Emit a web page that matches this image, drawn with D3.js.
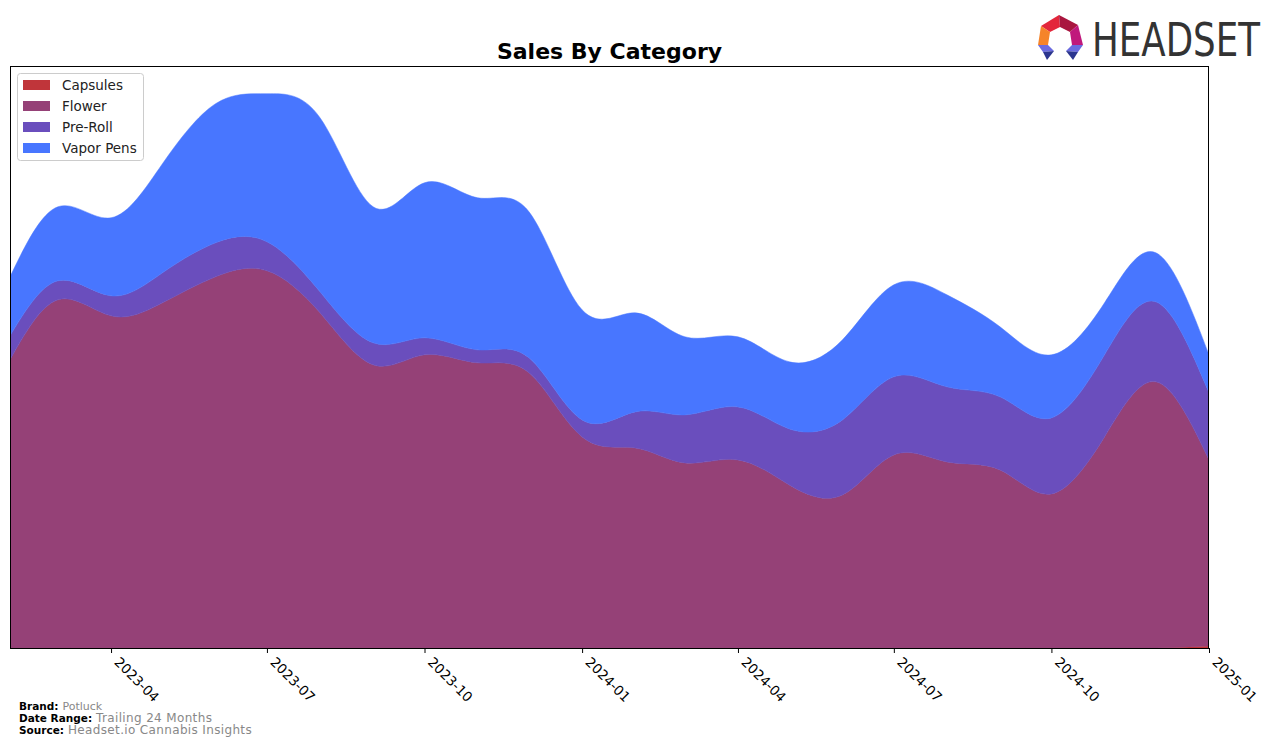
<!DOCTYPE html>
<html>
<head>
<meta charset="utf-8">
<script src="https://cdn.jsdelivr.net/npm/d3@7"></script>
<style>
  html, body { margin: 0; padding: 0; background: #fff; }
  svg { display: block; }
  text { font-family: "DejaVu Sans", sans-serif; }
</style>
</head>
<body>
<svg id="chart" width="1276" height="746"></svg>
<script>
// ---- data (monthly sales, arbitrary units) ----
const months = ["2023-02","2023-03","2023-04","2023-05","2023-06","2023-07","2023-08","2023-09",
  "2023-10","2023-11","2023-12","2024-01","2024-02","2024-03","2024-04","2024-05","2024-06",
  "2024-07","2024-08","2024-09","2024-10","2024-11","2024-12","2025-01"];
const capsules  = [0,0,0,0,0,0,0,0,0,0,0,0,0,0,0,0,0,0,0,0,0,0,0,2];
const flower    = [288,348,332,345,371,377,335,283,293,285,275,211,200,185,188,163,153,193,186,178,154,211,266,186];
const preRoll   = [24,19,20,30,34,29,21,22,17,13,15,17,36,48,53,56,75,78,75,73,76,82,80,67];
const vaporPens = [59,74,78,109,139,148,174,136,155,152,146,110,99,78,70,67,80,92,92,70,63,52,49,38];
const categories = ["Capsules","Flower","Pre-Roll","Vapor Pens"];
const colors = ["#C0353A","#954177","#6A4EBD","#4876FF"];
const tickLabels = ["2023-04","2023-07","2023-10","2024-01","2024-04","2024-07","2024-10","2025-01"];

const parse = d3.timeParse("%Y-%m");
const rows = months.map((m, i) => ({
  date: parse(m),
  "Capsules": capsules[i],
  "Flower": flower[i],
  "Pre-Roll": preRoll[i],
  "Vapor Pens": vaporPens[i]
}));

const svg = d3.select("#chart");
const L = 10, R = 1209, T = 66, B = 648;

const x = d3.scaleTime().domain([parse("2023-02"), parse("2025-01")]).range([L, R]);
const series = d3.stack().keys(categories)(rows);
const maxTotal = d3.max(series[series.length - 1], d => d[1]);
const y = d3.scaleLinear().domain([0, maxTotal * 1.05]).range([B, T]);

svg.append("defs").append("clipPath").attr("id", "plotclip")
  .append("rect").attr("x", L).attr("y", T).attr("width", R - L).attr("height", B - T);

const area = d3.area()
  .curve(d3.curveNatural)
  .x(d => x(d.data.date))
  .y0(d => y(d[0]))
  .y1(d => y(d[1]));

svg.append("g").attr("clip-path", "url(#plotclip)")
  .selectAll("path").data(series).join("path")
  .attr("d", area)
  .attr("fill", (d, i) => colors[i])
  .attr("stroke", (d, i) => colors[i])
  .attr("stroke-width", 0.5);

// frame
svg.append("rect").attr("x", L + 0.5).attr("y", T + 0.5)
  .attr("width", R - L - 1).attr("height", B - T)
  .attr("fill", "none").attr("stroke", "#000").attr("stroke-width", 1);

// x axis
const xAxis = d3.axisBottom(x)
  .tickValues(tickLabels.map(parse))
  .tickFormat(d3.timeFormat("%Y-%m"))
  .tickSize(5).tickPadding(4);
const gx = svg.append("g").attr("transform", `translate(0,${B})`).call(xAxis);
gx.select(".domain").remove();
gx.selectAll(".tick line").attr("stroke", "#000");
gx.selectAll(".tick text")
  .attr("font-size", 13.5).attr("fill", "#000")
  .attr("text-anchor", "start")
  .attr("dy", null).attr("y", 0)
  .attr("transform", "translate(2,15) rotate(45)");

// title
svg.append("text").attr("x", (L + R) / 2).attr("y", 59)
  .attr("text-anchor", "middle").attr("font-size", 22).attr("font-weight", "bold")
  .text("Sales By Category");

// legend
const lg = svg.append("g");
lg.append("rect").attr("x", 17.5).attr("y", 73.5).attr("width", 126).attr("height", 87)
  .attr("rx", 3).attr("fill", "#fff").attr("fill-opacity", 0.8)
  .attr("stroke", "#ccc").attr("stroke-width", 1);
categories.forEach((c, i) => {
  const cy = 85 + i * 21;
  lg.append("rect").attr("x", 23).attr("y", cy - 5).attr("width", 27).attr("height", 10).attr("fill", colors[i]);
  lg.append("text").attr("x", 62).attr("y", cy + 5).attr("font-size", 13.5).attr("fill", "#222").text(c);
});

// footer
const foot = [["Brand:", "Potluck", 11, 0], ["Date Range:", "Trailing 24 Months", 12, 0.35], ["Source:", "Headset.io Cannabis Insights", 12, 0.35]];
foot.forEach((f, i) => {
  const t = svg.append("text").attr("x", 19).attr("y", 710 + i * 12).attr("font-size", 10.5);
  t.append("tspan").attr("font-weight", "bold").attr("fill", "#000").text(f[0]);
  t.append("tspan").attr("fill", "#888").attr("font-size", f[2]).attr("letter-spacing", f[3]).attr("dx", 4).text(f[1]);
});

// logo
const logo = svg.append("g");
const polys = [
  ["#E3263B", [[1041,26],[1059,15],[1060,27],[1050,32]]],
  ["#A9163F", [[1059,15],[1078,25],[1070,32],[1060,27]]],
  ["#C0187C", [[1078,25],[1083,45],[1072,45],[1070,32]]],
  ["#F5842A", [[1041,26],[1050,32],[1048,45],[1038,45]]],
  ["#6A6AE0", [[1038,45],[1048,45],[1054,51],[1043,52]]],
  ["#2B358F", [[1043,52],[1054,51],[1047,60]]],
  ["#6A6AE0", [[1083,45],[1072,45],[1066,51],[1078,52]]],
  ["#2B358F", [[1078,52],[1066,51],[1073,60]]]
];
polys.forEach(p => logo.append("polygon").attr("points", p[1].map(q => q.join(",")).join(" ")).attr("fill", p[0]));
const lt = logo.append("text").attr("x", 0).attr("y", 0).attr("font-size", 46)
  .attr("font-family", "'DejaVu Sans Condensed', 'DejaVu Sans', sans-serif")
  .attr("fill", "#333")
  .text("HEADSET");
const w = lt.node().getComputedTextLength();
lt.attr("transform", `translate(1092,56) scale(${168 / w},1)`);
</script>
</body>
</html>
